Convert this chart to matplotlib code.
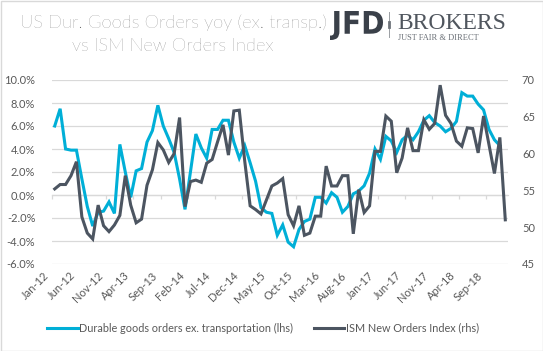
import numpy as np
import pandas as pd
import matplotlib.pyplot as plt
from matplotlib.patches import Rectangle, PathPatch
from matplotlib.lines import Line2D
from matplotlib.textpath import TextPath
from matplotlib.font_manager import FontProperties
from matplotlib.transforms import Affine2D, ScaledTranslation

# monthly data Jan-12 .. Dec-18
months = pd.date_range('2012-01-01', periods=84, freq='MS').strftime('%b-%y').tolist()

# durable goods orders ex. transportation, yoy % (lhs) - no value yet for Dec-18
durable = [6.0, 7.5, 4.0, 3.9, 3.9, 1.4, -1.0, -2.7, -1.5, -1.4, -0.6, -1.6,
           4.4, 2.0, -0.2, 2.1, 2.3, 4.6, 5.6, 7.8, 6.0, 4.9, 3.7, 1.4,
           -1.25, 2.0, 5.3, 4.1, 3.2, 5.7, 5.7, 6.5, 6.5, 4.6, 3.2, 4.3,
           2.8, 1.2, -1.1, -1.5, -1.6, -3.5, -2.6, -4.1, -4.5, -3.0, -2.3, -2.1,
           -0.2, -0.2, -0.7, 0.2, -0.2, -1.5, -1.0, 0.1, 0.35, 0.8, 1.9, 4.0,
           3.1, 5.1, 4.7, 3.7, 4.8, 5.2, 4.8, 5.5, 6.5, 6.9, 6.3, 6.0,
           5.5, 5.8, 6.4, 8.9, 8.6, 8.6, 7.9, 7.4, 5.7, 4.8, 4.3, np.nan]

# ISM new orders index (rhs)
ism = [55.2, 55.8, 55.8, 57.0, 58.9, 51.4, 49.2, 48.4, 53.0, 50.2, 49.4, 50.3,
       51.6, 57.0, 53.0, 50.6, 51.1, 55.7, 57.8, 61.5, 60.5, 58.8, 60.0, 64.9,
       52.8, 56.2, 56.4, 56.1, 58.7, 59.2, 61.6, 63.9, 59.8, 65.8, 65.9, 59.0,
       52.9, 52.4, 51.8, 53.7, 55.6, 56.0, 56.6, 51.7, 50.2, 52.9, 48.9, 49.2,
       51.5, 51.5, 58.3, 55.6, 55.6, 57.0, 57.0, 49.1, 55.1, 52.0, 52.9, 60.3,
       60.3, 65.1, 64.4, 57.4, 59.4, 63.5, 60.4, 60.4, 64.6, 63.3, 64.1, 69.3,
       65.2, 64.1, 61.7, 61.0, 63.5, 63.4, 60.1, 65.1, 61.2, 57.3, 62.2, 51.0]

left_ticks = [-6, -4, -2, 0, 2, 4, 6, 8, 10]
right_ticks = [45, 50, 55, 60, 65, 70]

cyan = '#00AFD7'
dark = '#4C5561'
grey_txt = '#595959'
grid_c = '#D9D9D9'
FONT = 'Lato'

W, H = 543, 351
fig = plt.figure(figsize=(W / 100, H / 100), dpi=100)

ax = fig.add_axes([52 / W, 87 / H, 456 / W, 184 / H])
ax2 = ax.twinx()

x = np.arange(len(months))
ax.plot(x, durable, color=cyan, lw=2.2, solid_joinstyle='miter')
ax2.plot(x, ism, color=dark, lw=2.2, solid_joinstyle='miter')

ax.set_xlim(-0.5, len(months) - 0.5)
ax.set_ylim(-6, 10)
ax2.set_ylim(45, 70)

ax.set_yticks(left_ticks)
ax.set_yticklabels([f'{v:.1f}%' for v in left_ticks])
ax2.set_yticks(right_ticks)
ax2.set_yticklabels([str(v) for v in right_ticks])
ax.yaxis.grid(True, color=grid_c, lw=0.9)
ax.set_axisbelow(True)

for a in (ax, ax2):
    for s in a.spines.values():
        s.set_visible(False)
ax.tick_params(axis='y', length=0, pad=12, labelsize=8, labelcolor=grey_txt)
ax2.tick_params(axis='y', length=0, pad=10, labelsize=8, labelcolor=grey_txt)

ax.set_xticks(x[::5])
ax.set_xticklabels(months[::5], rotation=45, ha='right', va='center',
                   rotation_mode='anchor', fontsize=8, color=grey_txt)
ax.tick_params(axis='x', length=0, pad=7)
shift = ScaledTranslation(-8 / 100, 0, fig.dpi_scale_trans)
for lab in ax.get_xticklabels():
    lab.set_transform(lab.get_transform() + shift)
    lab.set_family(FONT)
for lab in ax.get_yticklabels() + ax2.get_yticklabels():
    lab.set_family(FONT)

# horizontal axis line through 0 with tick marks between categories
zero_ax = ax.secondary_xaxis(6 / 16)
zero_ax.set_xticks(np.arange(-0.5, len(months) - 1, 5))
zero_ax.set_xticklabels([])
zero_ax.tick_params(length=3, color=grid_c, width=0.9)
zero_ax.spines['bottom'].set_color(grid_c)
zero_ax.spines['bottom'].set_linewidth(0.9)

# title
fig.text(173 / W, 1 - 14 / H, 'US Dur. Goods Orders yoy (ex. transp.)\nvs ISM New Orders Index',
         ha='center', va='top', multialignment='center', fontsize=13.2, family=FONT,
         fontweight='light', color=grey_txt, linespacing=1.6)

# logo
jfd = TextPath((0, 0), 'JFD', size=40, prop=FontProperties(family='DejaVu Sans', weight='bold'))
bb = jfd.get_extents()
tr = Affine2D().translate(-bb.x0, -bb.y0).scale(53 / bb.width, 29 / bb.height).translate(330, H - 40)
fig.add_artist(PathPatch(jfd, transform=tr, fc='#3A4049', ec='none'))
fig.add_artist(Line2D([389 / W, 389 / W], [1 - 12 / H, 1 - 37 / H], transform=fig.transFigure,
                      color='#9A9EA3', lw=0.7))
fig.add_artist(Line2D([389 / W, 389 / W], [1 - 22 / H, 1 - 27 / H], transform=fig.transFigure,
                      color='#6E737A', lw=2))
fig.text(397 / W, 1 - 29 / H, 'BROKERS', family='Liberation Serif', fontsize=17,
         color='#50565E', va='baseline')
fig.text(398 / W, 1 - 39.5 / H, 'JUST FAIR & DIRECT', family='Liberation Serif', fontsize=6,
         color='#6A6F76', va='baseline')

# legend
handles = [Line2D([], [], color=cyan, lw=2.2), Line2D([], [], color=dark, lw=2.2)]
leg = fig.legend(handles, ['Durable goods orders ex. transportation (lhs)', 'ISM New Orders Index (rhs)'],
                 loc='center', bbox_to_anchor=(263 / W, 1 - 328 / H), ncol=2, frameon=False,
                 prop=FontProperties(family=FONT, size=7.8), handlelength=2.8,
                 handletextpad=0.15, columnspacing=1.9)
for t in leg.get_texts():
    t.set_color(grey_txt)

# outer border
fig.add_artist(Rectangle((0.5 / W, 0.5 / H), (W - 1) / W, (H - 1) / H, transform=fig.transFigure,
                         fill=False, ec=grid_c, lw=1))

fig.savefig('out.png', dpi=100)
